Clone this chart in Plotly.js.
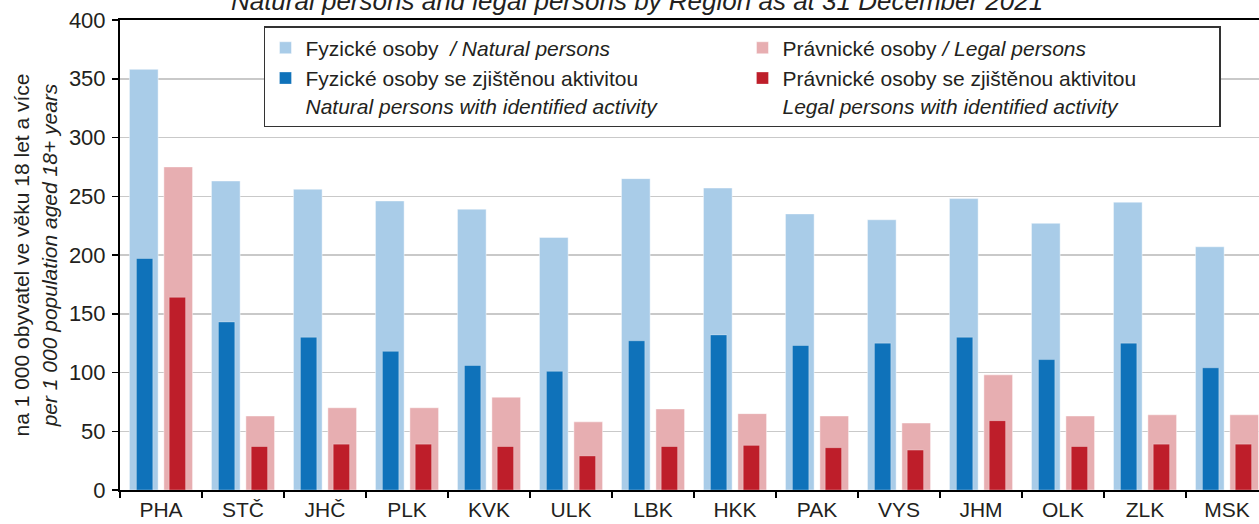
<!DOCTYPE html>
<html>
<head>
<meta charset="utf-8">
<script src="https://cdn.plot.ly/plotly-3.0.1.min.js"></script>
<style>html,body{margin:0;padding:0;background:#fff;}#chart{width:1259px;height:524px;}</style>
</head>
<body>
<div id="chart"></div>
<script>
const regions = ["PHA","STČ","JHČ","PLK","KVK","ULK","LBK","HKK","PAK","VYS","JHM","OLK","ZLK","MSK"];
const naturalPersons = [358, 263, 256, 246, 239, 215, 265, 257, 235, 230, 248, 227, 245, 207];
const naturalActive = [197, 143, 130, 118, 106, 101, 127, 132, 123, 125, 130, 111, 125, 104];
const legalPersons = [275, 63, 70, 70, 79, 58, 69, 65, 63, 57, 98, 63, 64, 64];
const legalActive = [164, 37, 39, 39, 37, 29, 37, 38, 36, 34, 59, 37, 39, 39];

const FONT = "Liberation Sans, Arial, sans-serif";
const TXT = "#231f20";

const traces = [
  {type:"bar", x:regions, y:naturalPersons, name:"Fyzické osoby  <i>/ Natural persons</i>",
   offset:-0.385, width:0.35, marker:{color:"#a9cce8", line:{color:"rgba(255,255,255,0.45)", width:1}}, hoverinfo:"y"},
  {type:"bar", x:regions, y:legalPersons, name:"Právnické osoby <i>/ Legal persons</i>",
   offset:0.035, width:0.35, marker:{color:"#e7aeb1", line:{color:"rgba(255,255,255,0.45)", width:1}}, hoverinfo:"y"},
  {type:"bar", x:regions, y:naturalActive, name:"Fyzické osoby se zjištěnou aktivitou<br><i>Natural persons with identified activity</i>",
   offset:-0.30, width:0.20, marker:{color:"#0f72ba", line:{color:"rgba(255,255,255,0.3)", width:1}}, hoverinfo:"y"},
  {type:"bar", x:regions, y:legalActive, name:"Právnické osoby se zjištěnou aktivitou<br><i>Legal persons with identified activity</i>",
   offset:0.10, width:0.20, marker:{color:"#be1e2a", line:{color:"rgba(255,255,255,0.3)", width:1}}, hoverinfo:"y"}
];

const layout = {
  width:1259, height:524,
  margin:{l:120, r:0, t:20, b:34, pad:0},
  paper_bgcolor:"#fff", plot_bgcolor:"#fff",
  barmode:"overlay",
  font:{family:FONT, color:TXT, size:21},
  title:{text:"<i>Natural persons and legal persons by Region as at 31 December 2021</i>",
    font:{family:FONT, size:26, color:TXT}, xref:"container", x:0.506, xanchor:"center",
    yref:"container", y:0.999, yanchor:"middle"},
  xaxis:{type:"category", range:[-0.5, 13.39], showline:true, linecolor:"#000", linewidth:2, mirror:true,
    ticks:"outside", tickson:"boundaries", ticklen:6, tickwidth:1.5, tickcolor:"#000",
    tickfont:{size:21, color:TXT}, showgrid:false, zeroline:false, fixedrange:true},
  yaxis:{range:[0,400], dtick:50, showline:true, linecolor:"#000", linewidth:2,
    ticks:"outside", ticklen:6, tickwidth:1.5, tickcolor:"#000", ticklabelstandoff:2,
    tickfont:{size:22, color:TXT}, showgrid:true, gridcolor:"#c9c9c9", gridwidth:1.5, zeroline:false,
    title:{text:"na 1 000 obyvatel ve věku 18 let a více<br><i>per 1 000 population aged 18+ years</i>",
      font:{size:21, color:TXT}, standoff:6}, fixedrange:true},
  legend:{orientation:"h", x:0.1264, xanchor:"left", y:0.987, yanchor:"top",
    entrywidth:432, entrywidthmode:"pixels", traceorder:"normal", valign:"top",
    bgcolor:"#fff", bordercolor:"#333", borderwidth:1.5, font:{size:21, color:TXT}},
  showlegend:true
};

Plotly.newPlot("chart", traces, layout, {displayModeBar:false, staticPlot:true});
</script>
</body>
</html>
